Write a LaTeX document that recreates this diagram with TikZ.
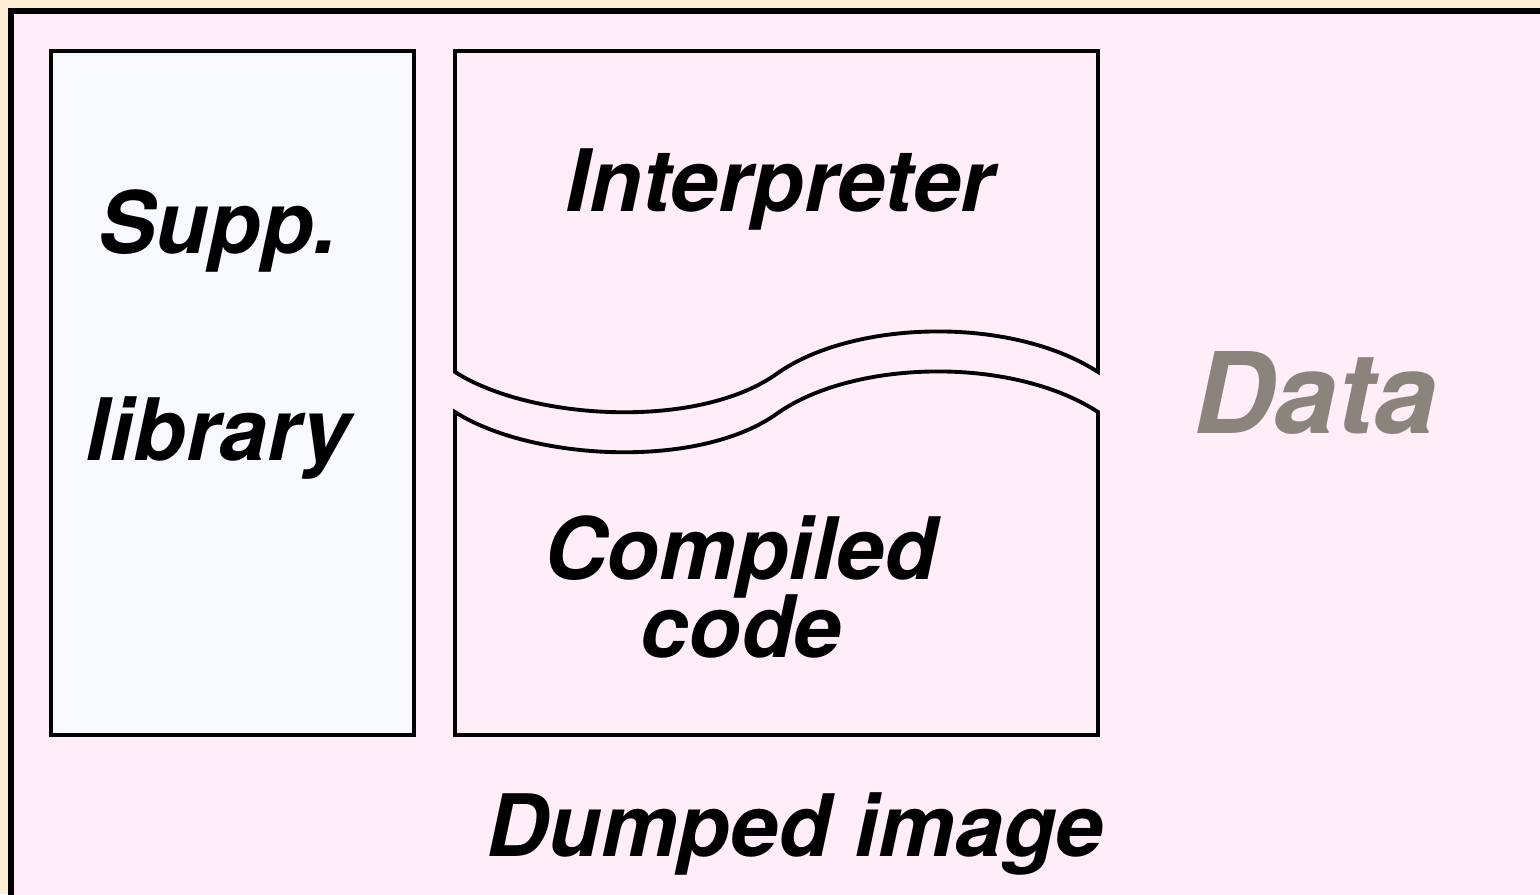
\documentclass[tikz,border=0pt]{standalone}
\usepackage{fontspec}
\setmainfont{TeX Gyre Heros}
\usepackage{tikz}
\usetikzlibrary{positioning, calc}
\definecolor{pagecolor}{RGB}{255,238,213}
\definecolor{imagecolor}{RGB}{255,238,248}
\definecolor{librarycolor}{RGB}{248,248,255}
\definecolor{datacolor}{RGB}{139,132,125}

\begin{document}
\begin{tikzpicture}[
    x=0.01cm, y=-0.01cm,
    part/.style={draw, line width=1.1pt},
    label/.style={font=\fontsize{24.5}{27}\selectfont\bfseries\itshape, align=center, inner sep=0pt}
]
    % Page and dumped image frame
    \fill[pagecolor] (0,0) rectangle (1540,894);
    \useasboundingbox (0,0) rectangle (1540,894);
    \draw[line width=1.7pt, fill=imagecolor] (11,11) rectangle (1560,910);

    % Support library
    \draw[part, fill=librarycolor] (51,51) rectangle (414,735);
    \node[label] (supp) at (218,231) {Supp.};
    \node[label] (lib) at (218,438) {library};

    % Interpreter, wavy bottom edge
    \draw[part, line join=miter] (455,372) -- (455,51) -- (1098,51) -- (1098,372)
        .. controls (1010,315) and (850,320) .. (775,375)
        .. controls (695,430) and (530,420) .. cycle;
    \node[label] (interp) at (780,189) {Interpreter};

    % Compiled code, wavy top edge
    \draw[part, line join=miter] (455,412)
        .. controls (530,460) and (695,470) .. (775,415)
        .. controls (850,360) and (1010,355) .. (1098,412)
        -- (1098,735) -- (455,735) -- cycle;
    \node[label, text depth=0pt] (comp) at (741,587) {Compiled\\[-4.8pt]code};

    % Data and caption
    \node[label, font=\fontsize{32}{34}\selectfont\bfseries\itshape, text=datacolor] (data) at (1315,393) {Data};
    \node[label] (dump) at (795,834) {Dumped image};
\end{tikzpicture}
\end{document}
